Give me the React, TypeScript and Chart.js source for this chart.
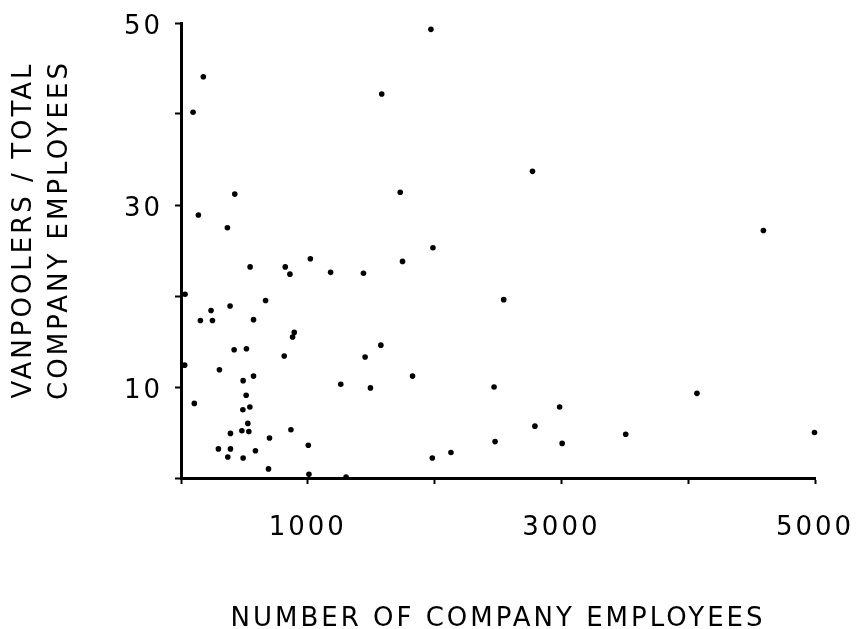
import React, { useEffect, useRef } from 'react';
import { Chart, registerables } from 'chart.js';

Chart.register(...registerables);

// Number of company employees (x) for each company
const employees = [
  37, 176, 1583, 95, 424, 1729, 137, 366, 1971, 2772,
  1987, 1020, 545, 822, 859, 1180, 1439, 32, 667, 387,
  237, 153, 248, 572, 893, 880, 1576, 419, 516, 814,
  1452, 29, 303, 572, 490, 1260, 1494, 514, 105, 488,
  543, 527, 867, 390, 480, 535, 698, 1004, 295, 390,
  587, 369, 490, 690, 1009, 1302, 1747, 2545, 1826, 2469,
  2986, 2791, 2477, 3006, 2129, 1982, 4593, 4069, 3507, 4996,
];

// Vanpoolers / total company employees (y), same order
const vanpoolRatio = [
  50.9, 44.1, 42.2, 40.2, 31.2, 31.4, 28.9, 27.5, 49.3, 33.7,
  25.3, 24.1, 23.2, 23.2, 22.4, 22.6, 22.5, 20.2, 19.5, 18.9,
  18.4, 17.3, 17.3, 17.4, 16.0, 15.5, 14.6, 14.1, 14.2, 13.4,
  13.3, 12.4, 11.9, 11.2, 10.7, 10.3, 9.9, 9.1, 8.2, 7.5,
  7.8, 6.0, 5.3, 4.9, 5.2, 5.1, 4.4, 3.6, 3.2, 3.2,
  3.0, 2.3, 2.2, 1.0, 0.4, 0.1, 23.8, 19.6, 11.2, 10.0,
  7.8, 5.7, 4.0, 3.8, 2.8, 2.2, 27.2, 9.3, 4.8, 5.0,
];

const xTickLabels = ['1000', '3000', '5000'];
const yTickLabels = ['10', '30', '50'];
const xTitle = 'NUMBER OF COMPANY EMPLOYEES';
const yTitleLines = ['VANPOOLERS / TOTAL', 'COMPANY EMPLOYEES'];

const FONT_FAMILY = '"DejaVu Sans", sans-serif';
const LETTER_SPACING = '3px';

const letterSpacingPlugin = {
  id: 'letterSpacing',
  beforeUpdate(chart: any) {
    chart.ctx.letterSpacing = LETTER_SPACING;
  },
  beforeDraw(chart: any) {
    chart.ctx.letterSpacing = LETTER_SPACING;
  },
};

const yTitlePlugin = {
  id: 'yTitleLines',
  afterDraw(chart: any) {
    const ctx = chart.ctx;
    ctx.save();
    ctx.letterSpacing = LETTER_SPACING;
    ctx.font = `26px ${FONT_FAMILY}`;
    ctx.fillStyle = '#000';
    ctx.textAlign = 'center';
    ctx.textBaseline = 'middle';
    const lineXs = [24, 60];
    const centerY = 230;
    yTitleLines.forEach((line, i) => {
      ctx.save();
      ctx.translate(lineXs[i], centerY);
      ctx.rotate(-Math.PI / 2);
      ctx.fillText(line, 0, 0);
      ctx.restore();
    });
    ctx.restore();
  },
};

export default function App() {
  const canvasRef = useRef<HTMLCanvasElement | null>(null);

  useEffect(() => {
    if (!canvasRef.current) return;
    const points = employees.map((x, i) => ({ x, y: vanpoolRatio[i] }));
    const tickFont = { family: FONT_FAMILY, size: 26, lineHeight: 1.2 };

    const chart = new Chart(canvasRef.current, {
      type: 'scatter',
      data: {
        datasets: [
          {
            data: points,
            pointRadius: 2.8,
            pointHoverRadius: 2.8,
            pointBackgroundColor: '#000',
            pointBorderWidth: 0,
            showLine: false,
            clip: false as any,
          },
        ],
      },
      options: {
        animation: false,
        responsive: false,
        devicePixelRatio: 1,
        layout: { padding: { top: 23, right: 42, bottom: 0, left: 0 } },
        plugins: {
          legend: { display: false },
          tooltip: { enabled: false },
        },
        scales: {
          x: {
            type: 'linear',
            min: 0,
            max: 5000,
            afterFit(scale: any) {
              scale.height = 151;
              scale.paddingLeft = 0;
              scale.paddingRight = 0;
              scale.paddingTop = 0;
              scale.paddingBottom = 0;
            },
            ticks: {
              stepSize: 1000,
              autoSkip: false,
              maxRotation: 0,
              color: '#000',
              font: tickFont,
              padding: 29,
              callback: (v: any) => (xTickLabels.includes(String(v)) ? String(v) : ''),
            },
            grid: {
              drawOnChartArea: false,
              drawTicks: true,
              tickLength: 6,
              tickWidth: 2,
              tickColor: '#000',
            },
            border: { display: true, color: '#000', width: 3 },
            title: {
              display: true,
              text: xTitle,
              color: '#000',
              font: { family: FONT_FAMILY, size: 26, lineHeight: 1 },
              padding: { top: 0, bottom: -3 },
            },
          },
          y: {
            type: 'linear',
            min: 0,
            max: 50,
            afterFit(scale: any) {
              scale.width = 181;
              scale.paddingLeft = 0;
              scale.paddingRight = 0;
              scale.paddingTop = 0;
              scale.paddingBottom = 0;
            },
            ticks: {
              stepSize: 10,
              autoSkip: false,
              color: '#000',
              font: tickFont,
              padding: 12,
              labelOffset: 4,
              callback: (v: any) => (yTickLabels.includes(String(v)) ? String(v) : ''),
            },
            grid: {
              drawOnChartArea: false,
              drawTicks: true,
              tickLength: 6,
              tickWidth: 2,
              tickColor: '#000',
            },
            border: { display: true, color: '#000', width: 3 },
          },
        },
      },
      plugins: [letterSpacingPlugin, yTitlePlugin],
    } as any);

    return () => chart.destroy();
  }, []);

  return (
    <div style={{ position: 'absolute', left: 0, top: 0, width: 857, height: 629, background: '#fff' }}>
      <canvas ref={canvasRef} width={857} height={629} />
    </div>
  );
}
